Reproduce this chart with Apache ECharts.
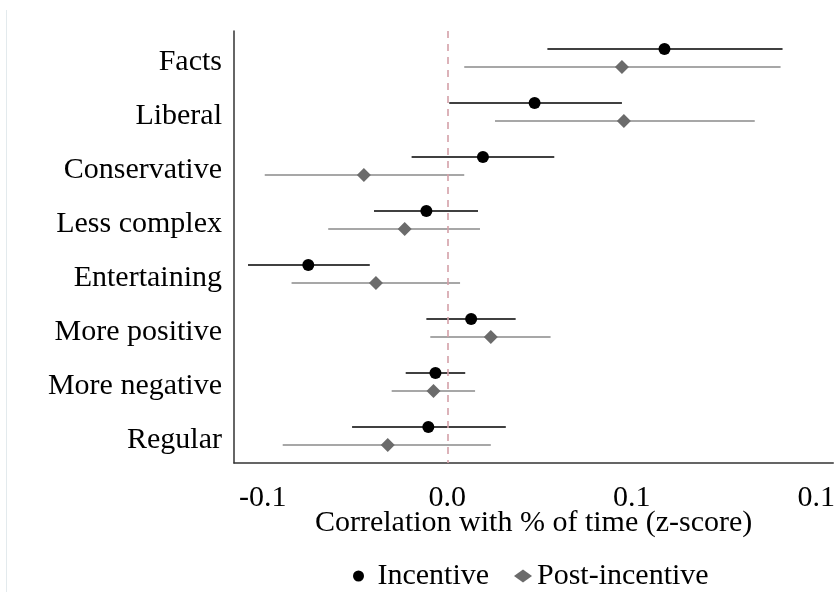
<!DOCTYPE html>
<html><head><meta charset="utf-8">
<script src="https://cdn.jsdelivr.net/npm/echarts@6/dist/echarts.min.js"></script>
<style>html,body{margin:0;padding:0;background:#fff}#c{width:838px;height:592px}</style>
</head><body><div id="c"></div>
<script>
const categories = ["Facts","Liberal","Conservative","Less complex","Entertaining","More positive","More negative","Regular"];
const incEst  = [0.0883, 0.0355, 0.0145, -0.0085, -0.0565, 0.0097, -0.0048, -0.0077];
const incLow  = [0.0407, 0.0008, -0.0145, -0.0298, -0.0810, -0.0085, -0.0169, -0.0387];
const incHigh = [0.1363, 0.0710, 0.0435, 0.0125, -0.0315, 0.0278, 0.0073, 0.0238];
const postEst  = [0.0710, 0.0718, -0.0339, -0.0173, -0.0290, 0.0177, -0.0056, -0.0242];
const postLow  = [0.0069, 0.0194, -0.0742, -0.0484, -0.0633, -0.0069, -0.0226, -0.0669];
const postHigh = [0.1355, 0.1250, 0.0069, 0.0133, 0.0052, 0.0420, 0.0113, 0.0177];
const tickValues = [-0.075, 0, 0.075, 0.15];
const tickLabels = ["-0.1", "0.0", "0.1", "0.1"];
const seriesNames = ["Incentive", "Post-incentive"];

const FONT = "Liberation Serif";
const FS = 30;
const chart = echarts.init(document.getElementById('c'), null, {renderer: 'canvas'});

function errBar(low, high, color, dir) {
  return {
    type: 'custom',
    silent: true,
    z: 2,
    data: categories.map((c, i) => [low[i], high[i], i]),
    renderItem: function (params, api) {
      const a = api.coord([api.value(0), api.value(2)]);
      const b = api.coord([api.value(1), api.value(2)]);
      const off = dir * api.size([0, 1])[1] / 6;
      return {
        type: 'line',
        shape: {x1: a[0], y1: a[1] + off, x2: b[0], y2: b[1] + off},
        style: {stroke: color, lineWidth: 1.7}
      };
    }
  };
}

chart.setOption({
  animation: false,
  backgroundColor: '#fff',
  textStyle: {fontFamily: FONT},
  grid: {left: 234, right: 0, top: 31, bottom: 129, containLabel: false},
  xAxis: {
    type: 'value',
    min: -0.0867, max: 0.1569,
    axisLine: {show: true, onZero: false, lineStyle: {color: '#333', width: 1.5}},
    axisTick: {show: false},
    splitLine: {show: false},
    axisLabel: {
      customValues: tickValues,
      color: '#000', fontSize: FS, fontFamily: FONT, margin: 20,
      formatter: function (v) {
        const k = tickValues.findIndex(t => Math.abs(t - v) < 1e-9);
        return k >= 0 ? tickLabels[k] : '';
      }
    },
    name: 'Correlation with % of time (z-score)',
    nameLocation: 'middle', nameGap: 45, nameMoveOverlap: false,
    nameTextStyle: {color: '#000', fontSize: FS, fontFamily: FONT}
  },
  yAxis: {
    type: 'category',
    data: categories,
    inverse: true,
    axisLine: {show: true, onZero: false, lineStyle: {color: '#333', width: 1.5}},
    axisTick: {show: false},
    splitLine: {show: false},
    axisLabel: {
      color: '#000', fontSize: FS, fontFamily: FONT, margin: 12,
      formatter: function (v) { return '{a|' + v + '}'; },
      rich: {a: {color: '#000', fontSize: FS, fontFamily: FONT, padding: [8, 0, 0, 0]}}
    }
  },
  legend: [
    {
      top: 556, left: 348, orient: 'horizontal',
      itemWidth: 28, itemHeight: 11,
      textStyle: {color: '#000', fontSize: FS, fontFamily: FONT},
      data: [{name: seriesNames[0], icon: 'circle', itemStyle: {color: '#000'}}]
    },
    {
      top: 556, left: 509, orient: 'horizontal',
      itemWidth: 18, itemHeight: 13,
      textStyle: {color: '#000', fontSize: FS, fontFamily: FONT},
      data: [{name: seriesNames[1], icon: 'diamond', itemStyle: {color: '#6b6b6b'}}]
    }
  ],
  series: [
    errBar(incLow, incHigh, '#000', -1),
    errBar(postLow, postHigh, '#8a8a8a', 1),
    {
      name: seriesNames[0], type: 'scatter', z: 3,
      symbol: 'circle', symbolSize: 12, symbolOffset: [0, -9],
      itemStyle: {color: '#000', opacity: 1},
      data: categories.map((c, i) => [incEst[i], c]),
      markLine: {
        silent: true, symbol: 'none', label: {show: false},
        lineStyle: {color: '#d4a0a8', type: [7, 6], width: 1.6},
        data: [{xAxis: 0}]
      }
    },
    {
      name: seriesNames[1], type: 'scatter', z: 3,
      symbol: 'diamond', symbolSize: 14, symbolOffset: [0, 9],
      itemStyle: {color: '#6b6b6b', opacity: 1},
      data: categories.map((c, i) => [postEst[i], c])
    }
  ],
  graphic: [{
    type: 'line', silent: true,
    shape: {x1: 6.5, y1: 10, x2: 6.5, y2: 592},
    style: {stroke: '#e3eaed', lineWidth: 1}
  }]
});
</script></body></html>
